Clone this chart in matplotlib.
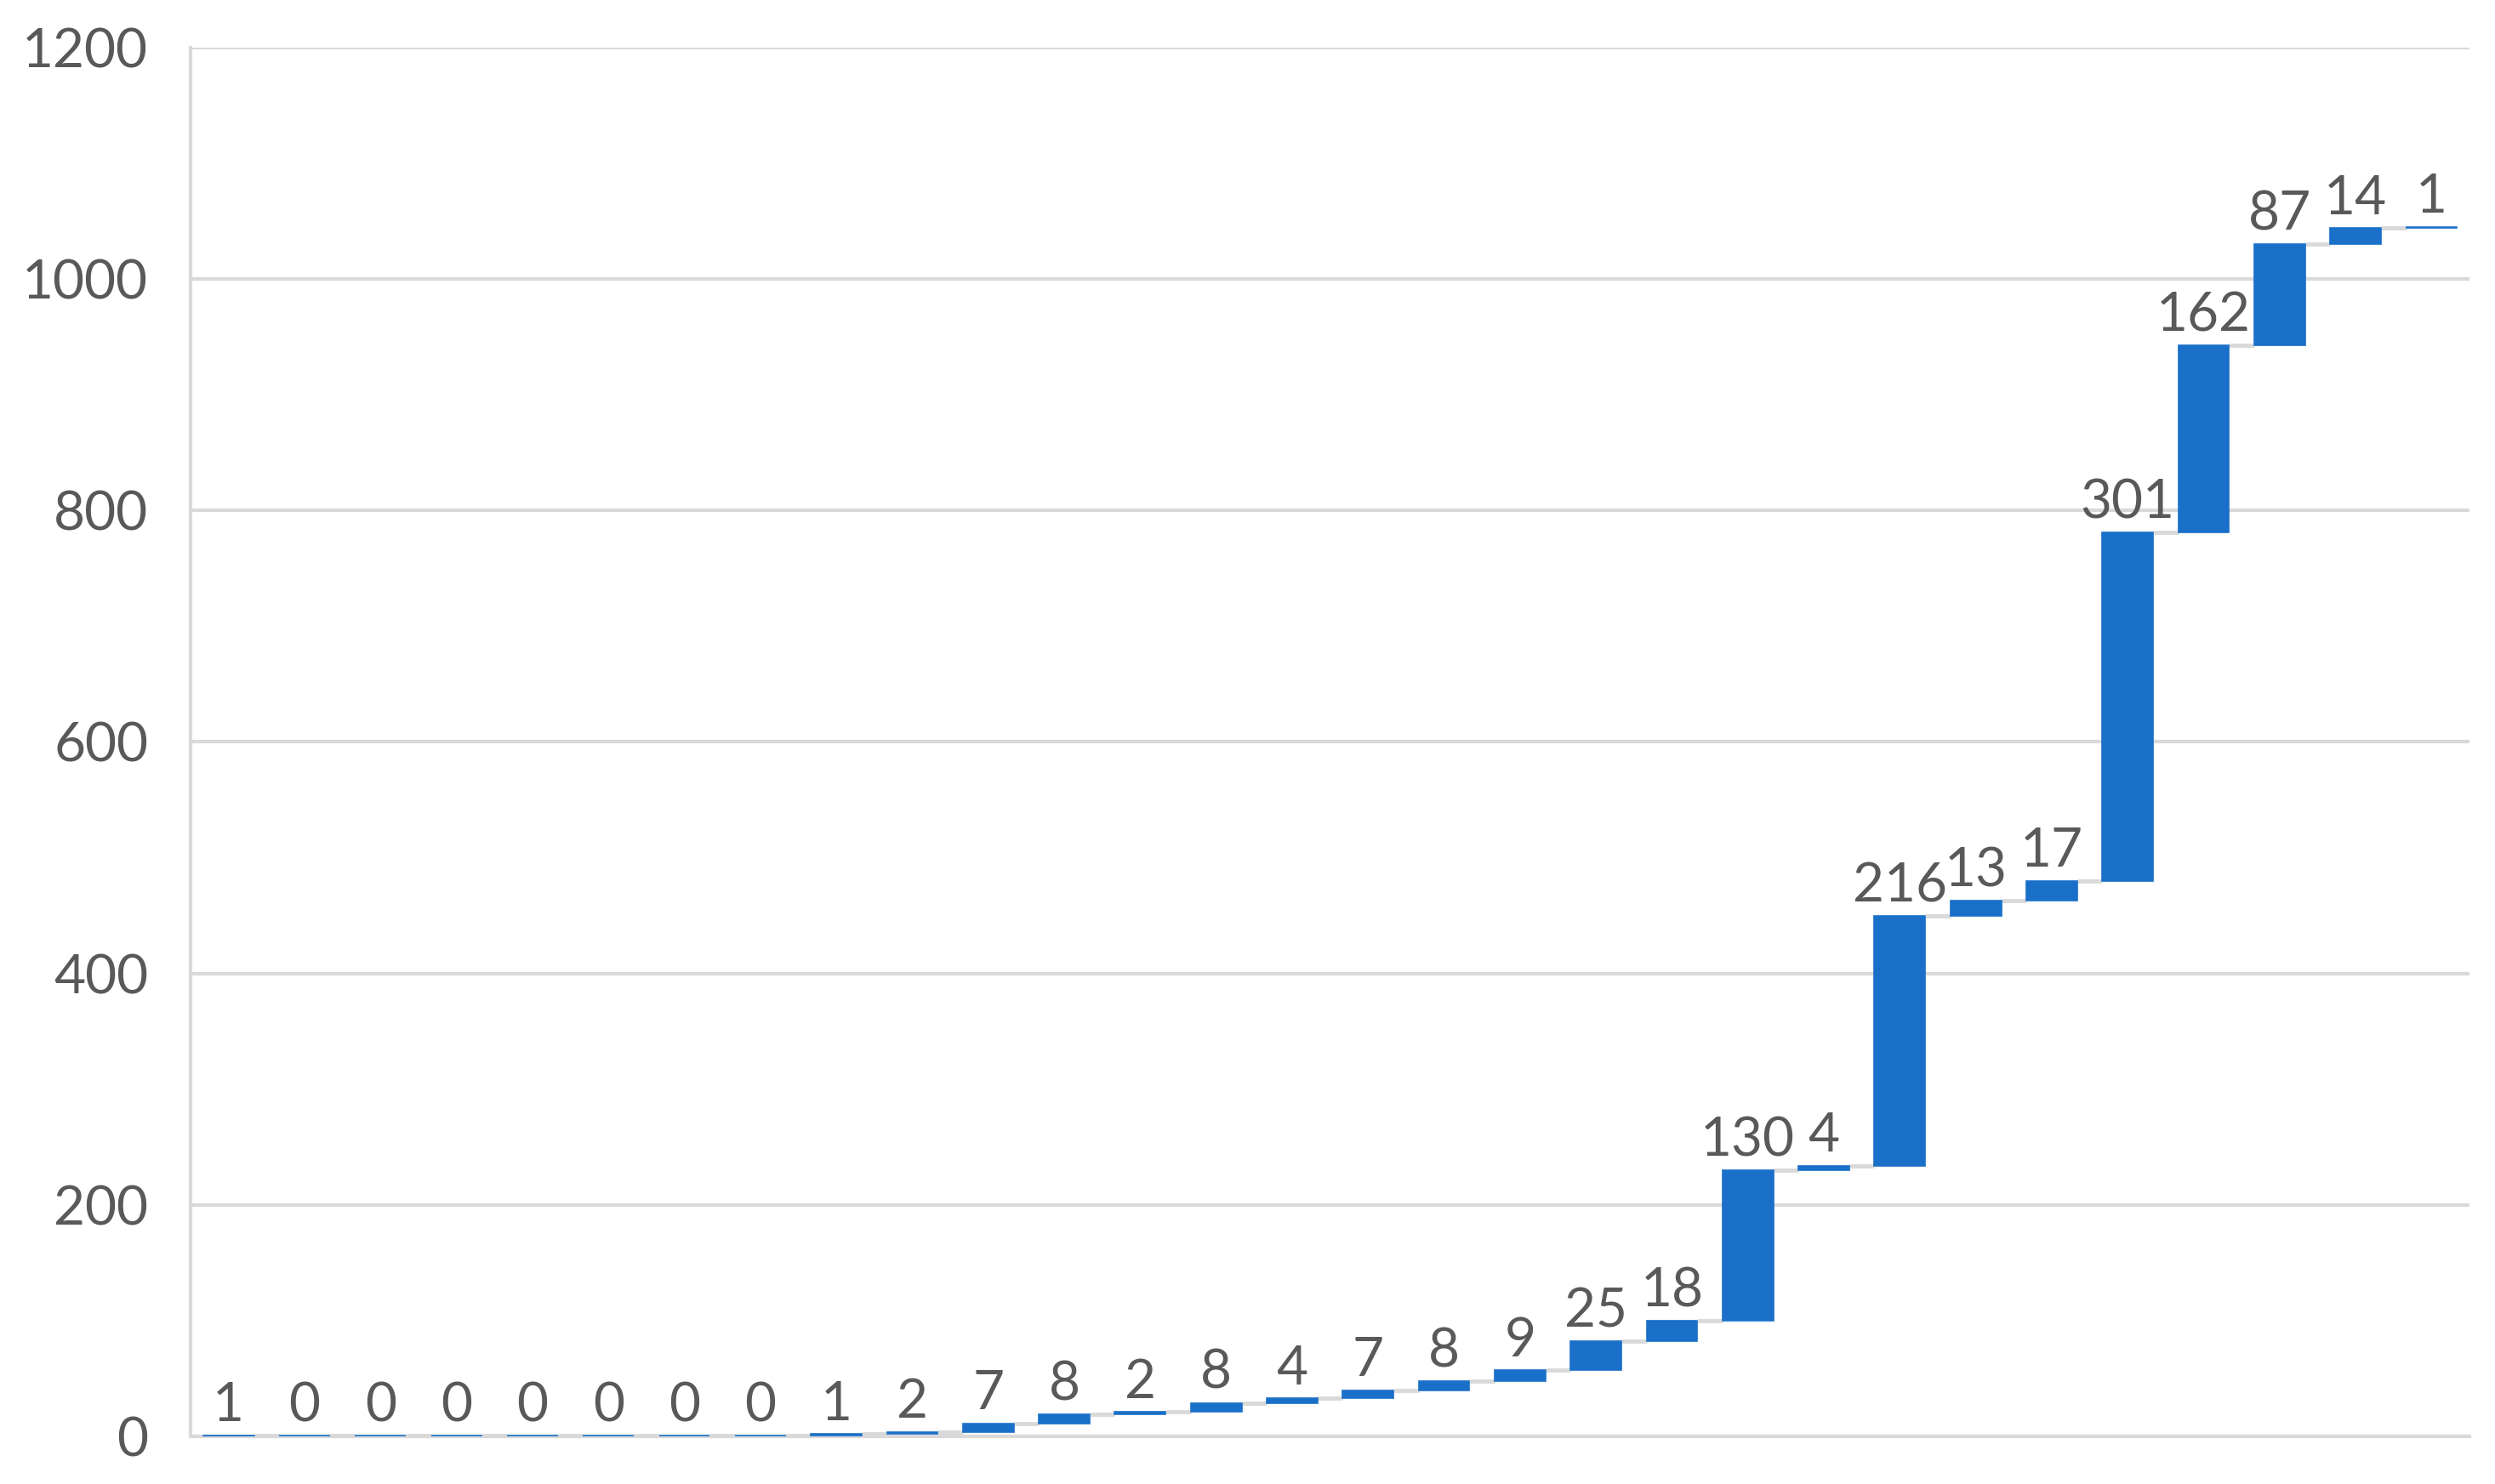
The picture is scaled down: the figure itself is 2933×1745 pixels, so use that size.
import matplotlib
matplotlib.use('Agg')
from matplotlib import pyplot as plt
import numpy as np

# waterfall step values
values = [1, 0, 0, 0, 0, 0, 0, 0, 1, 2, 7, 8, 2, 8, 4, 7, 8, 9, 25, 18,
          130, 4, 216, 13, 17, 301, 162, 87, 14, 1]
y_ticks = [0, 200, 400, 600, 800, 1000, 1200]

bar_color = '#1a70c8'
grid_color = '#d9d9d9'
text_color = '#595959'
font = ['Lato', 'DejaVu Sans']

vals = np.array(values)
ends = np.cumsum(vals)
starts = ends - vals
x = np.arange(len(vals))
w = 0.67

fig = plt.figure(figsize=(29.33, 17.45), dpi=100)
ax = fig.add_axes([0.0764, 0.0321, 0.9134, 0.9358])

ax.bar(x, vals, bottom=starts, width=w, color=bar_color,
       edgecolor=bar_color, linewidth=1.2, zorder=3)

# connectors between steps
ax.hlines(ends[:-1], x[:-1] + w / 2, x[1:] - w / 2, color=grid_color,
          linewidth=3.5, zorder=2)

for xi, top, v in zip(x, ends, vals):
    ax.annotate(str(v), (xi, top), xytext=(0, 4), textcoords='offset points',
                ha='center', va='bottom', fontsize=46, color=text_color,
                family=font, zorder=4)

ax.set_xlim(-0.5, len(vals) - 0.5)
ax.set_ylim(0, 1200)
ax.set_yticks(y_ticks)
ax.set_xticks([])
ax.grid(axis='y', color=grid_color, linewidth=3, zorder=0)
ax.set_axisbelow(True)
for s in ['top', 'right']:
    ax.spines[s].set_visible(False)
for s in ['left', 'bottom']:
    ax.spines[s].set_color(grid_color)
    ax.spines[s].set_linewidth(3)
ax.tick_params(axis='y', length=0, pad=36, labelsize=46, labelcolor=text_color)
for lbl in ax.get_yticklabels():
    lbl.set_family(font)

fig.savefig('out.png', dpi=100)
plt.close()
